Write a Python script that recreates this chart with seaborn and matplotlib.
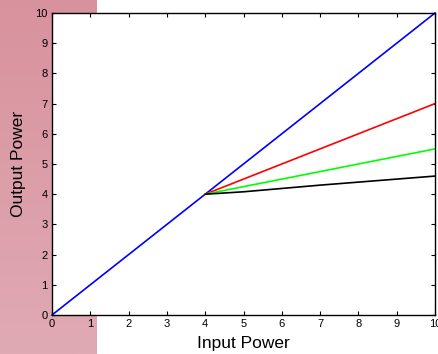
import numpy as np
import pandas as pd
import matplotlib
matplotlib.use("Agg")
import matplotlib.pyplot as plt
import seaborn as sns

# Transfer curves: linear response and three compression regimes above 4
linear_x = [0, 10]
linear_y = [0, 10]
red_x = [4, 10]
red_y = [4, 7]
green_x = [4, 10]
green_y = [4, 5.5]
black_x = [4, 5, 7, 10]
black_y = [4, 4.08, 4.3, 4.6]
ticks = list(range(0, 11))

sns.set_theme(style="white")
plt.rcParams["font.family"] = ["Liberation Sans", "DejaVu Sans"]

fig = plt.figure(figsize=(4.39, 3.54), dpi=100)

# pink panel behind the left side of the figure
bg = fig.add_axes([0, 0, 97 / 439, 1], zorder=-1)
grad = np.linspace(0, 1, 256).reshape(-1, 1)
cmap = matplotlib.colors.LinearSegmentedColormap.from_list("pk", ["#d8929d", "#e0aab4"])
bg.imshow(grad, aspect="auto", cmap=cmap, extent=[0, 1, 0, 1])
bg.set_axis_off()

ax = fig.add_axes([52 / 439, 39 / 354, 383 / 439, 302 / 354])
ax.set_facecolor("white")

curves = [
    (linear_x, linear_y, "#0000ff"),
    (red_x, red_y, "#ff0000"),
    (green_x, green_y, "#00ff00"),
    (black_x, black_y, "#000000"),
]
for xs, ys, c in curves:
    df = pd.DataFrame({"x": xs, "y": ys})
    sns.lineplot(data=df, x="x", y="y", ax=ax, color=c, linewidth=1.2,
                 sort=False, estimator=None, clip_on=False)

ax.set_xlim(0, 10)
ax.set_ylim(0, 10)
ax.set_xticks(ticks)
ax.set_yticks(ticks)
ax.tick_params(direction="in", length=3, width=0.8, colors="black",
               labelsize=8, top=True, right=True, bottom=True, left=True,
               pad=3)
for s in ax.spines.values():
    s.set_color("black")
    s.set_linewidth(1.0)
ax.set_xlabel("Input Power", fontsize=12.5, color="black", labelpad=5)
ax.set_ylabel("Output Power", fontsize=12.5, color="black", labelpad=7)

fig.savefig("out.png", dpi=100)
